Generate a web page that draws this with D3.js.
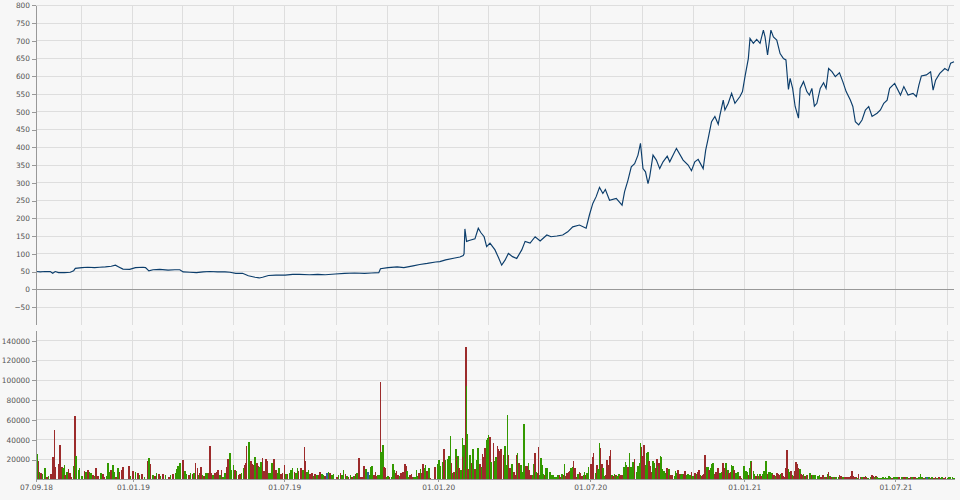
<!DOCTYPE html>
<html><head><meta charset="utf-8">
<script src="https://cdn.jsdelivr.net/npm/d3@7"></script>
<style>
html,body{margin:0;padding:0;background:#f7f7f7;}
svg{display:block;}
text{font-family:"DejaVu Sans",Verdana,sans-serif;font-size:7.4px;fill:#555;}
</style>
</head><body>
<svg id="c" width="960" height="500"></svg>
<script>
// ---- price series ----
const priceDates = ["2018-09-07","2018-09-12","2018-09-18","2018-09-24","2018-09-27","2018-09-30","2018-10-04","2018-10-11","2018-10-18","2018-10-22","2018-10-24","2018-11-01","2018-11-08","2018-11-16","2018-11-22","2018-11-29","2018-12-06","2018-12-11","2018-12-15","2018-12-20","2018-12-28",
"2019-01-04","2019-01-13","2019-01-16","2019-01-20","2019-01-25","2019-02-02","2019-02-12","2019-02-20","2019-02-26","2019-03-02","2019-03-10","2019-03-18","2019-03-26","2019-04-03","2019-04-12","2019-04-21","2019-04-27","2019-05-04","2019-05-12","2019-05-19","2019-05-27","2019-06-01","2019-06-05","2019-06-12","2019-06-21","2019-07-02","2019-07-11","2019-07-19","2019-07-31","2019-08-10","2019-08-19","2019-08-31","2019-09-11","2019-09-23","2019-10-05","2019-10-13","2019-10-22","2019-10-24","2019-11-02","2019-11-13","2019-11-21","2019-12-02","2019-12-10","2019-12-19","2019-12-29",
"2020-01-03","2020-01-10","2020-01-21","2020-01-27","2020-01-31","2020-02-01","2020-02-02","2020-02-04","2020-02-08","2020-02-14","2020-02-18","2020-02-21","2020-02-25","2020-02-28","2020-03-03","2020-03-09","2020-03-13","2020-03-17","2020-03-21","2020-03-25","2020-03-30","2020-04-04","2020-04-10","2020-04-14","2020-04-20","2020-04-26","2020-05-02","2020-05-10","2020-05-15","2020-05-22","2020-05-29","2020-06-04","2020-06-10","2020-06-18","2020-06-26","2020-06-30","2020-07-04","2020-07-08","2020-07-12","2020-07-16","2020-07-19","2020-07-24","2020-08-01","2020-08-08","2020-08-11","2020-08-15","2020-08-19","2020-08-23","2020-08-27","2020-08-30","2020-09-02","2020-09-05","2020-09-08","2020-09-10","2020-09-14","2020-09-18","2020-09-22","2020-09-26","2020-10-01","2020-10-04","2020-10-12","2020-10-20","2020-10-26","2020-10-30","2020-11-03","2020-11-07","2020-11-13","2020-11-16","2020-11-19","2020-11-23","2020-11-27","2020-12-01","2020-12-03","2020-12-07","2020-12-09","2020-12-13","2020-12-17","2020-12-21","2020-12-27","2020-12-30",
"2021-01-02","2021-01-06","2021-01-08","2021-01-12","2021-01-16","2021-01-20","2021-01-24","2021-01-26","2021-01-29","2021-02-02","2021-02-05","2021-02-09","2021-02-13","2021-02-17","2021-02-20","2021-02-22","2021-02-23","2021-02-25","2021-02-28","2021-03-03","2021-03-07","2021-03-09","2021-03-13","2021-03-17","2021-03-20","2021-03-23","2021-03-26","2021-03-29","2021-04-02","2021-04-06","2021-04-09","2021-04-12","2021-04-16","2021-04-20","2021-04-25","2021-04-29","2021-05-03","2021-05-08","2021-05-11","2021-05-14","2021-05-18","2021-05-22","2021-05-26","2021-05-30","2021-06-03","2021-06-09","2021-06-13","2021-06-17","2021-06-21","2021-06-24","2021-06-30","2021-07-07","2021-07-11","2021-07-16","2021-07-22","2021-07-26","2021-07-29","2021-08-01","2021-08-07","2021-08-12","2021-08-15","2021-08-18","2021-08-23","2021-08-29","2021-09-02","2021-09-05","2021-09-09"];
const priceValues = [50,49,50,50,45,50,47,47,48,52,59,61,62,61,62,63,65,68,63,57,56,
61,62,61,52,55,56,54,55,55,49,48,47,49,50,49,49,48,45,45,38,34,32,34,39,40,40,42,42,41,42,41,43,45,46,45,46,47,58,61,63,61,66,70,73,77,
78,83,88,91,95,100,170,135,138,142,172,160,148,120,130,111,90,68,82,101,92,87,111,135,130,148,136,153,148,150,153,162,176,181,172,210,242,261,287,270,281,251,256,237,275,307,345,354,378,411,340,331,298,317,378,364,340,359,375,359,397,364,350,334,359,366,340,392,425,472,487,465,490,533,505,524,552,524,543,557,
599,650,707,693,704,693,730,711,660,730,711,702,664,650,646,589,563,594,566,515,482,566,585,557,547,566,516,524,566,582,566,622,613,599,610,585,557,533,515,472,463,477,505,515,487,496,505,524,533,566,580,547,571,547,552,543,575,601,604,613,561,589,608,622,616,637,641];

// ---- volume bars: [days after volumeStart, volume, direction u/d/n] ----
const volumeStart = "2018-09-07";
const volumes = [
[1,25600,"u"],[3,18500,"d"],[4,7700,"u"],[6,6100,"d"],[8,5400,"u"],[10,8800,"d"],[11,11100,"u"],[13,2700,"d"],[15,3400,"u"],[18,5400,"d"],[20,22200,"d"],[22,49800,"d"],[23,12800,"d"],[27,15500,"d"],[28,18500,"d"],[29,34700,"d"],[31,12800,"d"],[32,11100,"u"],[34,14500,"u"],[35,4400,"d"],[37,7700,"u"],[39,10100,"d"],[41,6100,"d"],[42,2700,"d"],[45,13500,"u"],[46,40400,"u"],[47,64000,"d"],[48,23600,"u"],[51,9400,"u"],[52,11400,"u"],[55,3400,"u"],[58,8400,"d"],[60,7700,"u"],[62,9400,"d"],[64,7700,"u"],[66,6700,"u"],[68,4400,"d"],[70,3400,"u"],[72,11100,"d"],[74,3400,"d"],[77,3400,"d"],[78,6700,"u"],[80,5400,"d"],[82,2700,"d"],[85,3400,"u"],[86,16200,"u"],[88,7700,"u"],[90,9400,"d"],[92,14500,"u"],[94,7700,"u"],[96,2700,"d"],[98,11100,"u"],[100,7700,"d"],[103,9400,"d"],[104,12100,"d"],[111,13500,"d"],[113,3400,"u"],[116,8400,"d"],[119,7700,"u"],[122,6700,"d"],[124,4400,"u"],[127,5400,"d"],[130,2700,"u"],[134,18500,"d"],[135,21200,"u"],[137,15500,"d"],[140,4400,"u"],[142,3400,"d"],[144,6100,"u"],[147,5400,"d"],[149,3400,"u"],[152,5400,"d"],[155,4400,"u"],[159,2700,"d"],[161,4400,"u"],[164,5400,"d"],[167,6100,"u"],[168,10100,"u"],[170,13500,"u"],[172,16800,"u"],[175,18500,"d"],[176,19500,"d"],[178,8400,"u"],[180,5400,"u"],[183,4400,"d"],[185,6700,"u"],[187,5400,"d"],[189,6700,"u"],[191,16200,"d"],[193,11100,"d"],[195,4400,"u"],[196,6700,"d"],[197,12800,"d"],[199,4400,"u"],[201,3400,"d"],[203,6100,"u"],[205,6700,"u"],[207,6700,"d"],[208,33700,"d"],[210,6100,"d"],[212,4400,"u"],[214,6700,"d"],[216,7700,"d"],[218,9400,"d"],[220,4400,"u"],[222,9400,"d"],[224,2700,"u"],[226,6700,"u"],[228,12800,"d"],[230,20200,"d"],[232,26900,"u"],[234,9400,"u"],[236,14500,"u"],[238,9400,"d"],[240,8800,"u"],[242,4400,"d"],[244,5400,"d"],[246,6700,"u"],[248,11100,"u"],[250,14500,"d"],[251,16200,"d"],[252,33700,"d"],[254,29600,"u"],[255,38000,"u"],[257,18500,"d"],[259,15200,"d"],[261,14500,"d"],[262,22200,"u"],[264,16200,"d"],[266,13500,"d"],[267,12100,"u"],[269,17800,"u"],[271,21200,"d"],[273,8400,"d"],[275,20200,"d"],[277,18500,"d"],[278,6700,"u"],[280,6100,"u"],[282,16800,"u"],[283,14500,"u"],[285,20200,"d"],[287,9400,"d"],[289,6100,"u"],[291,11100,"u"],[293,5400,"d"],[295,6700,"d"],[297,14500,"d"],[299,5400,"u"],[301,5400,"d"],[303,6100,"u"],[305,9400,"u"],[307,11100,"u"],[309,7700,"d"],[311,6100,"u"],[313,11100,"u"],[314,8400,"d"],[317,11100,"d"],[319,9400,"u"],[321,32300,"d"],[322,18500,"d"],[324,7700,"u"],[326,9400,"u"],[328,5400,"d"],[330,6700,"d"],[332,3400,"u"],[334,5400,"d"],[336,4400,"u"],[338,4400,"d"],[340,7700,"d"],[342,5400,"u"],[344,4400,"u"],[346,3400,"d"],[348,6100,"n"],[350,7700,"u"],[352,6100,"d"],[354,4400,"u"],[356,5400,"u"],
[360,2700,"d"],[362,4400,"u"],[364,6100,"d"],[366,4400,"u"],[368,9400,"u"],[370,5400,"d"],[372,3400,"u"],[374,2700,"d"],[376,4400,"u"],[378,2700,"d"],[380,3400,"u"],[382,5400,"d"],[384,6100,"u"],[386,21900,"d"],[388,2700,"d"],[390,2700,"d"],[392,13500,"d"],[394,4400,"u"],[395,10100,"u"],[397,7700,"n"],[399,4400,"u"],[400,12800,"u"],[402,13500,"u"],[404,4400,"d"],[406,7700,"d"],[407,3400,"d"],[409,4400,"u"],[411,4400,"u"],[412,98300,"d"],[413,27900,"u"],[415,34700,"u"],[416,12800,"d"],[418,11100,"d"],[419,2700,"u"],[421,3400,"u"],[423,2700,"d"],[425,2000,"u"],[427,15500,"u"],[428,9400,"u"],[430,6100,"d"],[431,8400,"d"],[433,4400,"d"],[435,3400,"u"],[436,6700,"d"],[438,6100,"d"],[439,7700,"d"],[441,15500,"d"],[443,13500,"d"],[444,8400,"u"],[446,2700,"u"],[447,4400,"d"],[449,5400,"d"],[451,2700,"d"],[452,2000,"u"],[454,2700,"u"],[455,9400,"u"],[457,3400,"u"],[458,6100,"d"],[460,10400,"u"],[462,6700,"d"],[463,15500,"d"],[465,11100,"u"],[466,14500,"u"],[468,8800,"d"],[470,11100,"u"],[471,1000,"d"],[477,12800,"d"],[478,6700,"d"],[481,15500,"u"],[482,19500,"u"],[484,13800,"u"],[486,14500,"u"],[487,17800,"u"],[488,30600,"d"],[490,19500,"u"],[492,20500,"u"],[494,23600,"u"],[496,43800,"u"],[497,16800,"d"],[499,6700,"u"],[500,7400,"d"],[502,30300,"u"],[503,22900,"d"],[505,23600,"u"],[506,11100,"d"],[508,9400,"u"],[510,41400,"u"],[511,22900,"d"],[512,34700,"u"],[514,134000,"d"],[515,94300,"u"],[516,45800,"u"],[517,10100,"d"],[519,24600,"u"],[521,16200,"d"],[522,14500,"d"],[523,30600,"u"],[525,10100,"d"],[527,19500,"u"],[528,16200,"d"],[529,31300,"u"],[531,15500,"d"],[533,12800,"u"],[534,25600,"d"],[536,22900,"d"],[537,31300,"d"],[539,39700,"u"],[540,41400,"u"],[541,44800,"u"],[543,43100,"d"],[544,17800,"u"],[545,9400,"u"],[547,36400,"d"],[549,18900,"u"],[550,22900,"u"],[552,33700,"d"],[553,30300,"d"],[554,29000,"d"],[556,30300,"d"],[557,29000,"d"],[559,24200,"d"],[561,33700,"u"],[562,14500,"u"],[564,65000,"u"],[565,24600,"d"],[567,11100,"d"],[569,15500,"u"],[570,11100,"u"],[572,7700,"d"],[573,4400,"d"],[575,24600,"d"],[576,26300,"u"],[578,16200,"d"],[580,14500,"u"],[581,7700,"u"],[583,30600,"d"],[584,55900,"u"],[586,13500,"d"],[587,13500,"d"],[589,16200,"u"],[590,9400,"d"],[592,4400,"d"],[594,4400,"u"],[595,15500,"u"],[597,26300,"d"],[598,7700,"u"],[600,6100,"d"],[601,32300,"d"],[602,4400,"u"],[604,21200,"u"],[606,14500,"u"],[607,5400,"u"],[609,4400,"d"],[610,11100,"u"],[612,11100,"u"],[614,7700,"u"],[615,7700,"u"],[617,4400,"u"],[619,4400,"u"],[620,2700,"u"],[622,2000,"u"],[624,4400,"u"],[626,4400,"d"],[627,2700,"d"],[629,5400,"u"],[631,4400,"d"],[632,15500,"u"],[634,3400,"d"],[635,6100,"d"],[637,7700,"d"],[639,8800,"d"],[640,11100,"u"],[642,12800,"u"],[643,18500,"d"],[645,11100,"d"],[647,2700,"d"],[648,5400,"u"],[650,7700,"d"],[651,6700,"d"],[653,3400,"d"],[655,4400,"u"],[656,7700,"u"],[658,4400,"d"],[659,6100,"u"],[661,12800,"u"],[663,13500,"u"],[664,15500,"d"],[666,22900,"d"],[667,26300,"d"],[669,6100,"u"],[671,14500,"d"],[672,10100,"u"],[674,36400,"u"],[675,32000,"d"],[677,15500,"d"],[678,11100,"u"],[680,3400,"u"],[681,4400,"d"],[683,19500,"d"],[684,14500,"d"],[686,23600,"d"],[687,29600,"d"],[689,4400,"u"],[690,3400,"d"],[692,5400,"u"],[694,4400,"d"],[695,3400,"u"],[697,5400,"u"],[698,3400,"d"],[700,4400,"d"],[702,4400,"d"],[703,12800,"u"],[705,17800,"u"],[706,14500,"u"],[708,12800,"d"],[710,26300,"u"],[711,12800,"u"],[713,12800,"u"],[714,17800,"u"],[716,20200,"d"],
[719,7700,"u"],[720,13500,"u"],[722,16200,"u"],[723,37000,"u"],[724,33000,"d"],[725,23600,"d"],[727,34700,"d"],[728,22900,"d"],[729,14500,"u"],[731,26900,"u"],[732,27900,"u"],[733,18500,"d"],[735,13500,"d"],[737,7700,"d"],[738,18500,"u"],[740,16200,"u"],[741,11100,"d"],[743,20200,"d"],[744,13500,"u"],[745,16200,"d"],[747,23600,"u"],[748,22900,"u"],[749,10100,"u"],[751,8800,"u"],[752,6700,"u"],[754,6700,"d"],[755,11100,"d"],[757,10100,"u"],[758,4400,"d"],[760,4400,"d"],[761,4400,"d"],[764,3400,"u"],[765,8400,"u"],[767,6700,"u"],[768,9400,"d"],[770,5400,"d"],[771,4400,"u"],[773,5400,"u"],[775,5400,"d"],[776,8400,"d"],[777,7700,"d"],[779,4400,"u"],[780,5400,"u"],[782,4400,"u"],[784,7700,"d"],[785,3400,"u"],[787,3400,"u"],[788,6700,"d"],[790,5400,"u"],[792,7700,"d"],[793,9400,"d"],[795,4400,"u"],[796,3400,"d"],[798,4400,"d"],[799,5400,"d"],[800,24600,"d"],[802,12800,"u"],[804,12800,"u"],[805,9400,"d"],[807,11100,"u"],[808,15500,"u"],[810,16800,"u"],[812,5400,"d"],[813,7700,"d"],[815,9400,"d"],[816,11100,"d"],[818,6700,"u"],[820,7700,"u"],[821,9400,"d"],[822,16800,"d"],[824,11100,"d"],[825,16800,"u"],[826,9400,"d"],[828,9400,"u"],[829,6700,"d"],[831,7700,"d"],[832,14500,"u"],[834,13500,"u"],[835,9400,"d"],[837,6700,"u"],[839,3400,"d"],[840,7700,"u"],[842,3400,"d"],[844,1300,"d"],[847,13500,"u"],[849,8400,"u"],[851,7700,"u"],[852,4400,"d"],[854,11100,"u"],[855,18500,"u"],[856,17500,"d"],[858,8400,"u"],[859,5400,"u"],[861,3400,"d"],[863,5400,"u"],[864,3400,"d"],[866,5400,"u"],[867,3400,"d"],[869,5400,"u"],[871,8400,"u"],[872,5400,"u"],[873,18900,"u"],[875,5400,"d"],[877,7700,"u"],[878,7700,"u"],[880,6700,"u"],[881,5400,"d"],[883,4400,"d"],[885,3400,"u"],[886,6700,"d"],[888,5400,"d"],[889,4400,"d"],[891,5400,"u"],[892,6700,"d"],[894,3400,"d"],[896,2700,"d"],[897,11400,"d"],[898,29600,"d"],[900,10400,"u"],[902,7700,"u"],[903,8400,"d"],[905,4400,"u"],[906,3400,"d"],[908,8800,"d"],[909,17500,"d"],[910,15500,"d"],[912,11100,"d"],[914,10100,"u"],[915,5400,"d"],[917,4400,"d"],[918,5400,"u"],[920,3400,"d"],[922,4400,"u"],[923,4400,"d"],[925,3400,"u"],[926,6700,"u"],[928,4400,"d"],[929,4400,"u"],[931,3400,"d"],[932,4400,"u"],[935,3400,"u"],[937,4400,"u"],[939,2700,"d"],[941,4400,"d"],[943,2700,"u"],[945,2700,"d"],[947,5400,"u"],[948,7100,"d"],[950,3400,"u"],[951,2000,"d"],[953,2700,"u"],[955,2700,"d"],[957,2000,"u"],[960,2700,"u"],[961,4400,"d"],[963,3400,"d"],[965,2000,"u"],[967,2700,"d"],[969,2000,"d"],[971,2000,"d"],[973,2700,"d"],[974,3400,"d"],[976,8400,"d"],[977,3400,"d"],[979,2700,"d"],[981,2700,"d"],[982,1000,"u"],[984,5400,"d"],[986,2700,"d"],[988,2700,"u"],[990,2000,"d"],[992,3400,"u"],[993,2000,"d"],[995,1700,"u"],[998,2000,"u"],[1000,4400,"d"],[1001,3400,"d"],[1003,2700,"u"],[1005,3400,"d"],[1006,2000,"u"],[1008,1700,"u"],[1010,1300,"u"],[1012,1700,"u"],[1013,2000,"u"],[1015,1700,"u"],[1016,2000,"u"],[1018,1700,"u"],[1020,3400,"u"],[1022,2000,"u"],[1024,1700,"d"],[1026,2000,"u"],[1028,2700,"u"],[1030,2000,"u"],[1032,2700,"d"],[1035,1700,"d"],[1036,2000,"u"],[1038,2700,"d"],[1040,2000,"d"],[1042,2000,"u"],[1044,1700,"d"],[1046,2000,"d"],[1048,2000,"u"],[1050,2700,"d"],[1052,2000,"d"],[1054,1700,"u"],[1056,2000,"u"],[1058,5400,"u"],[1060,2000,"u"],[1062,1700,"d"],[1064,2700,"u"],[1066,2000,"n"],[1068,2000,"u"],[1070,1700,"d"],[1072,2000,"u"],[1074,1700,"d"],[1076,2000,"d"],[1078,1700,"u"],[1080,2000,"d"],[1082,1700,"u"],[1084,2000,"u"],[1086,1700,"d"],[1088,2000,"d"],[1090,1700,"u"],[1092,2000,"u"],[1094,2400,"u"],[1096,2000,"u"],[1098,1700,"u"]
];

// ---- axes ----
const dateDomain = ["2018-09-07","2021-09-09"];
const priceTicks = [-50,0,50,100,150,200,250,300,350,400,450,500,550,600,650,700,750,800];
const volumeTicks = [20000,40000,60000,80000,100000,120000,140000];
const dateTicks = ["2018-09-07","2019-01-01","2019-07-01","2020-01-01","2020-07-01","2021-01-01","2021-07-01"];

const parse = d3.timeParse("%Y-%m-%d");
const fmt = d3.timeFormat("%d.%m.%y");
const start = parse(volumeStart);

const L = 36, R = 954;
const x = d3.scaleTime().domain(dateDomain.map(parse)).range([L, R]);
const yP = d3.scaleLinear().domain([-100, 800]).range([324.8, 5.3]);
const yV = d3.scaleLinear().domain([0, 150000]).range([479.3, 330.8]);

const svg = d3.select("#c");
const gridCol = "#dedede", axisCol = "#999";
const gridMonths = x.ticks(d3.timeMonth.every(2));

// price panel grid
const gP = svg.append("g").attr("shape-rendering","crispEdges");
gP.selectAll("line.h").data(priceTicks).join("line")
  .attr("x1", L).attr("x2", R).attr("y1", d => yP(d)).attr("y2", d => yP(d))
  .attr("stroke", d => d === 0 ? axisCol : gridCol);
gP.selectAll("line.v").data(gridMonths).join("line").attr("class","v")
  .attr("x1", d => x(d)).attr("x2", d => x(d)).attr("y1", yP(800)).attr("y2", yP(-100))
  .attr("stroke", gridCol);
gP.append("line").attr("x1",L).attr("x2",R).attr("y1",yP(0)).attr("y2",yP(0)).attr("stroke",axisCol);

// volume panel grid
const gV = svg.append("g").attr("shape-rendering","crispEdges");
gV.selectAll("line.h").data(volumeTicks).join("line")
  .attr("x1", L).attr("x2", R).attr("y1", d => yV(d)).attr("y2", d => yV(d)).attr("stroke", gridCol);
gV.selectAll("line.v").data(gridMonths).join("line").attr("class","v")
  .attr("x1", d => x(d)).attr("x2", d => x(d)).attr("y1", yV(150000)).attr("y2", yV(0))
  .attr("stroke", gridCol);

// volume bars
const barCol = {u:"#339900", d:"#9c2b2b", n:"#336699"};
const bw = 1.6;
svg.append("g").attr("shape-rendering","crispEdges")
  .selectAll("rect").data(volumes).join("rect")
  .attr("x", d => x(d3.timeDay.offset(start, d[0])) - bw/2)
  .attr("width", bw)
  .attr("y", d => yV(d[1]))
  .attr("height", d => yV(0) - yV(d[1]))
  .attr("fill", d => barCol[d[2]]);

// price line
const pts = priceDates.map((d,i) => [parse(d), priceValues[i]]);
svg.append("path").datum(pts)
  .attr("fill","none").attr("stroke","#0b3d6b").attr("stroke-width",1.15)
  .attr("stroke-linejoin","miter")
  .attr("d", d3.line().x(d => x(d[0])).y(d => yP(d[1])));

// axes
function styleAxis(g){
  g.attr("font-family", null).attr("font-size", null);
  g.selectAll("path.domain").attr("stroke", axisCol);
  g.selectAll(".tick line").attr("stroke", axisCol);
  g.selectAll(".tick text").attr("fill", "#555");
}
svg.append("g").attr("transform",`translate(${L},0)`).attr("shape-rendering","crispEdges")
  .call(d3.axisLeft(yP).tickValues(priceTicks).tickFormat(d3.format("d")).tickSize(4).tickSizeOuter(0).tickPadding(2))
  .call(styleAxis);
svg.append("g").attr("transform",`translate(${L},0)`).attr("shape-rendering","crispEdges")
  .call(d3.axisLeft(yV).tickValues(volumeTicks).tickFormat(d3.format("d")).tickSize(4).tickSizeOuter(0).tickPadding(2))
  .call(styleAxis);
svg.append("g").attr("transform",`translate(0,${yV(0)})`).attr("shape-rendering","crispEdges")
  .call(d3.axisBottom(x).tickValues(dateTicks.map(parse)).tickFormat(fmt).tickSize(3).tickSizeOuter(0).tickPadding(2))
  .call(styleAxis);
</script>
</body></html>
